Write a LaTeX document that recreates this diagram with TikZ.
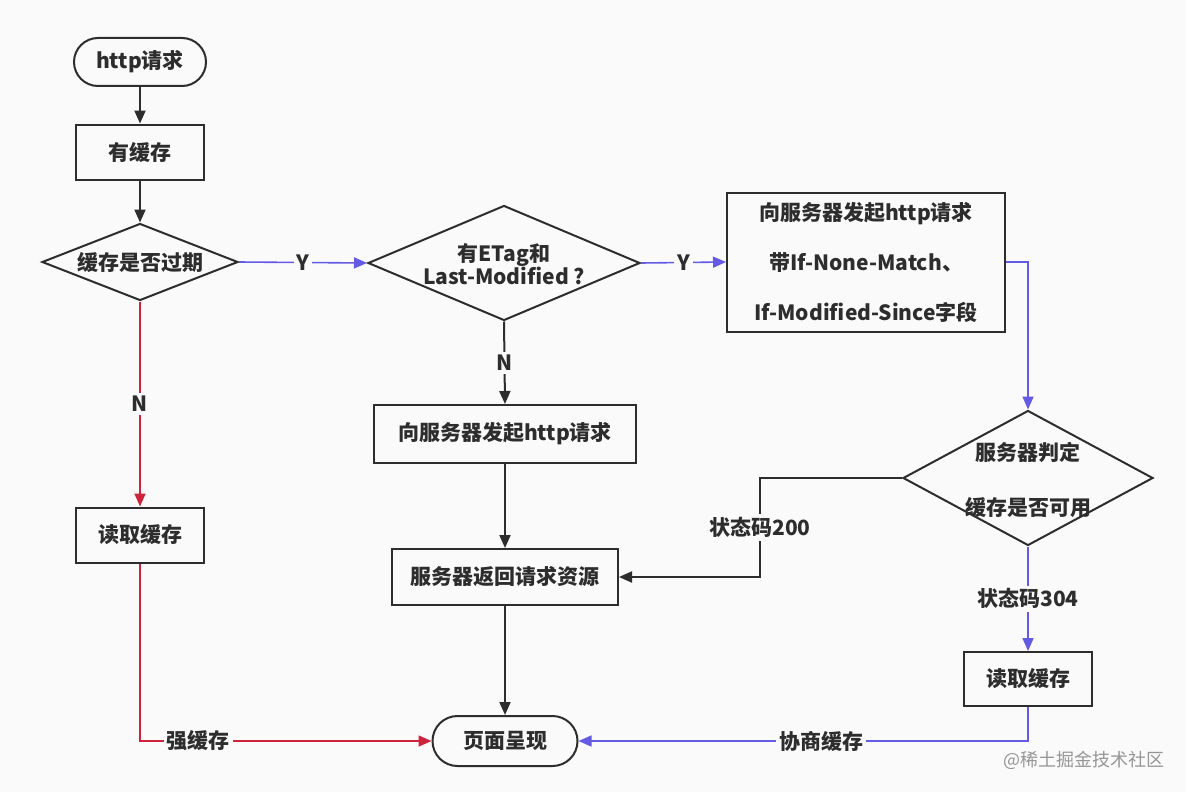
\documentclass[tikz,border=0pt]{standalone}
\usepackage{fontspec}
\setmainfont{Noto Sans CJK SC}
\usetikzlibrary{shapes.geometric,arrows.meta}
\definecolor{bk}{RGB}{45,45,45}
\definecolor{rd}{RGB}{205,35,60}
\definecolor{bl}{RGB}{100,90,228}
\definecolor{bgc}{RGB}{250,250,250}
\definecolor{wm}{RGB}{150,150,150}
\begin{document}
\begin{tikzpicture}[x=0.5pt,y=-0.5pt,
  font=\fontsize{10.5}{12.5}\selectfont\bfseries,
  every node/.style={text=bk},
  box/.style={draw=bk,line width=1pt,fill=bgc,inner sep=0pt,align=center},
  term/.style={box,rounded corners=12pt},
  dia/.style={draw=bk,line width=1pt,fill=bgc,diamond,inner sep=0pt},
  lab/.style={fill=bgc,inner sep=1.5pt},
  ar/.style={draw=bk,line width=1pt,-{Triangle[length=6.5pt,width=5.5pt]}},
  arb/.style={draw=bl,line width=0.8pt,-{Triangle[length=6.5pt,width=5.5pt]}},
  arr/.style={draw=rd,line width=0.8pt,-{Triangle[length=6.5pt,width=5.5pt]}}]
\fill[bgc] (0,0) rectangle (1186,792);
\useasboundingbox (0,0) rectangle (1186,792);

% nodes
\node[term,minimum width=66pt,minimum height=24pt] (start) at (140,62) {http请求};
\node[box,minimum width=64pt,minimum height=27.5pt] (c1) at (140,152) {有缓存};
\node[dia,minimum width=98pt,minimum height=38.5pt] (d1) at (140,262) {};
\node at (d1.center) {缓存是否过期};
\node[dia,minimum width=136pt,minimum height=57.5pt] (d2) at (504,263) {};
\node[align=center,font=\fontsize{10.5}{11.5}\selectfont\bfseries] at (504,264) {有ETag和\\Last-Modified ?};
\node[box,minimum width=139pt,minimum height=69.5pt] (b3) at (866,262)
  {向服务器发起http请求\\[12.5pt]带If-None-Match、\\[12.5pt]If-Modified-Since字段};
\node[dia,minimum width=125pt,minimum height=67.5pt] (d3) at (1028,478) {};
\node[align=center] at (1028,480) {服务器判定\\[15pt]缓存是否可用};
\node[box,minimum width=131pt,minimum height=29pt] (q) at (505,434) {向服务器发起http请求};
\node[box,minimum width=113pt,minimum height=28pt] (s) at (505,577) {服务器返回请求资源};
\node[box,minimum width=64pt,minimum height=27.5pt] (r1) at (140,535) {读取缓存};
\node[box,minimum width=64pt,minimum height=27pt] (r2) at (1028,679) {读取缓存};
\node[term,minimum width=72.5pt,minimum height=25pt,rounded corners=12.5pt] (end) at (505,741) {页面呈现};
\coordinate (k200) at (760,478);

% connectors
\draw[ar] (start) -- (c1);
\draw[ar] (c1) -- (d1);
\draw[arb] (d1.east) -- node[lab]{Y} (d2.west);
\draw[arb] (d2.east) -- node[lab]{Y} (b3.west);
\draw[arb] (b3.east) -| (d3.north);
\draw[ar] (d2.south) -- node[lab]{N} (q.north);
\draw[ar] (q) -- (s);
\draw[ar] (s) -- (end);
\draw[ar] (d3.west) -- (k200) |- node[lab,pos=0.25]{状态码200} (s.east);
\draw[arb] (d3.south) -- node[lab]{状态码304} (r2.north);
\draw[arb] (r2.south) |- node[lab,pos=0.73]{协商缓存} (end.east);
\draw[arr] (d1.south) -- node[lab]{N} (r1.north);
\draw[arr] (r1.south) |- node[lab,pos=0.6]{强缓存} (end.west);

% watermark
\node[font=\fontsize{9}{11}\selectfont,text=wm] (wmk) at (1084,760) {@稀土掘金技术社区};
\end{tikzpicture}
\end{document}
